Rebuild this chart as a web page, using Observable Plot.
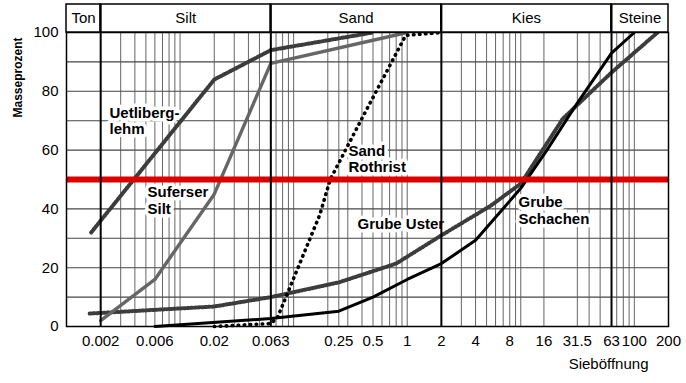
<!DOCTYPE html>
<html>
<head>
<meta charset="utf-8">
<script src="https://cdn.jsdelivr.net/npm/d3@7"></script>
<script src="https://cdn.jsdelivr.net/npm/@observablehq/plot@0.6"></script>
<style>
  html, body { margin: 0; padding: 0; background: #fff; }
</style>
</head>
<body>
<div id="chart"></div>
<script>
// Grain-size classes of the header row (mm)
const classNames = ["Ton", "Silt", "Sand", "Kies", "Steine"];
const classFrom = [0.001, 0.002, 0.063, 2, 63];
const classTo = [0.002, 0.063, 2, 63, 200];

// Sieve openings labelled on the x axis (mm) and percent ticks
const sieveTicks = [0.002, 0.006, 0.02, 0.063, 0.25, 0.5, 1, 2, 4, 8, 16, 31.5, 63, 100, 200];
const sieveLabels = ["0.002", "0.006", "0.02", "0.063", "0.25", "0.5", "1", "2", "4", "8", "16", "31.5", "63", "100", "200"];
const percentTicks = [0, 20, 40, 60, 80, 100];
const percentGrid = [10, 20, 30, 40, 50, 60, 70, 80, 90];

// Thin vertical grid lines (mm)
const gridSizes = [
  0.003, 0.004, 0.005, 0.006, 0.007, 0.008, 0.009, 0.01, 0.02, 0.03, 0.04, 0.05,
  0.07, 0.08, 0.09, 0.1, 0.2, 0.25, 0.3, 0.4, 0.5, 0.6, 0.7, 0.8, 0.9, 1,
  3, 4, 5, 6, 7, 8, 9, 10, 16, 31.5, 40, 50,
  70, 80, 90, 100
];

// Grading curves: sieve opening (mm) and passing mass (%)
const uetlibergSize = [0.00165, 0.02, 0.063, 0.5];
const uetlibergPct = [32, 84, 94, 100];

const sufersSize = [0.002, 0.006, 0.02, 0.063, 1];
const sufersPct = [2, 16, 45, 89.5, 100];

const rothristSize = [0.02, 0.063, 0.072, 0.17, 0.21, 0.39, 0.97, 2];
const rothristPct = [0, 1, 3, 38, 50, 70, 99, 100];

const usterSize = [0.0016, 0.02, 0.063, 0.25, 0.8, 2, 5.4, 10, 23.5, 63, 160];
const usterPct = [4.4, 6.8, 10, 15, 21.4, 31, 41, 48.6, 70.7, 86.4, 100];

const schachenSize = [0.006, 0.063, 0.25, 0.5, 1, 2, 4, 10, 17, 31.5, 63, 100];
const schachenPct = [0, 2.7, 5.2, 10, 16, 21.4, 29.3, 47, 60, 76, 93, 100];

// Curve labels: text, anchor opening (mm), anchor percent
const labelText = ["Uetliberg-\nlehm", "Suferser\nSilt", "Sand\nRothrist", "Grube Uster", "Grube\nSchachen"];
const labelSize = [0.00239, 0.00517, 0.304, 0.365, 9.55];
const labelPct = [70.1, 42.9, 57, 35, 39.5];

const referenceLine = [50];

// ---- layout ----
const W = 686, H = 383;
const plotTop = 32, plotBottom = 326, headerPx = 28;
const headerTop = 100 + headerPx / (plotBottom - plotTop) * 100;

const classes = classNames.map((name, i) => ({name, from: classFrom[i], to: classTo[i]}));
const boundaries = classFrom.slice(1);
const ticks = sieveTicks.map((v, i) => ({v, label: sieveLabels[i]}));

const toRows = (size, pct) => size.map((s, i) => ({size: s, pct: pct[i]}));

const hatched = {stroke: "#3c3c3c", strokeWidth: 4, strokeDasharray: "1.5,2"};
const series = [
  {rows: toRows(uetlibergSize, uetlibergPct), style: hatched},
  {rows: toRows(usterSize, usterPct), style: hatched},
  {rows: toRows(sufersSize, sufersPct), style: {stroke: "#666", strokeWidth: 3.4}},
  {rows: toRows(rothristSize, rothristPct), style: {stroke: "#000", strokeWidth: 3.6, strokeDasharray: "0.5,5.5", strokeLinecap: "round"}},
  {rows: toRows(schachenSize, schachenPct), style: {stroke: "#000", strokeWidth: 3}}
];

const labels = labelText.map((t, i) => ({text: t, size: labelSize[i], pct: labelPct[i]}));

const chart = Plot.plot({
  width: W,
  height: H,
  marginLeft: 66,
  marginRight: 18,
  marginTop: plotTop,
  marginBottom: H - plotBottom,
  style: {
    fontFamily: "'Liberation Sans', Arial, Helvetica, sans-serif",
    fontSize: "15px",
    background: "#fff",
    color: "#000"
  },
  x: {type: "log", domain: [0.001, 200], axis: null},
  y: {domain: [0, 100], axis: null},
  marks: [
    // grid
    Plot.ruleY(percentGrid, {stroke: "#444", strokeWidth: 1.1}),
    Plot.ruleX(gridSizes, {y1: 0, y2: 100, stroke: "#555", strokeWidth: 0.9}),

    // curve labels with white backing
    Plot.text(labels, {
      x: "size", y: "pct", text: "text",
      textAnchor: "start", lineHeight: 1.07,
      fontSize: 15, fontWeight: "bold",
      fill: "#000", stroke: "#fff", strokeWidth: 7, strokeLinejoin: "round"
    }),

    // grading curves
    ...series.map(s => Plot.line(s.rows, {x: "size", y: "pct", ...s.style})),

    // 50 % reference line
    Plot.ruleY(referenceLine, {stroke: "#dc0000", strokeWidth: 6}),

    Plot.frame({stroke: "#000", strokeWidth: 1.5}),

    // header row with grain-size classes
    Plot.rect(classes, {x1: "from", x2: "to", y1: 100, y2: headerTop, fill: "#fff", stroke: "#000", strokeWidth: 1.5}),
    Plot.text(classes, {x: d => Math.sqrt(d.from * d.to), y: (100 + headerTop) / 2, text: "name", fontSize: 15}),
    Plot.ruleX(boundaries, {y1: 0, y2: headerTop, stroke: "#000", strokeWidth: 2}),

    // axis tick labels
    Plot.text(ticks, {x: "v", text: "label", frameAnchor: "bottom", dy: 19, fontSize: 15}),
    Plot.text(percentTicks, {y: d => d, text: d => String(d), frameAnchor: "left", dx: -8, textAnchor: "end", fontSize: 15}),

    // axis titles
    Plot.text(["Masseprozent"], {frameAnchor: "left", rotate: -90, dx: -48, dy: -62, fontWeight: "bold", fontSize: 12}),
    Plot.text(["Sieböffnung"], {frameAnchor: "bottom-right", dx: -20, dy: 42, textAnchor: "end", fontSize: 15})
  ]
});

document.getElementById("chart").appendChild(chart);
</script>
</body>
</html>
